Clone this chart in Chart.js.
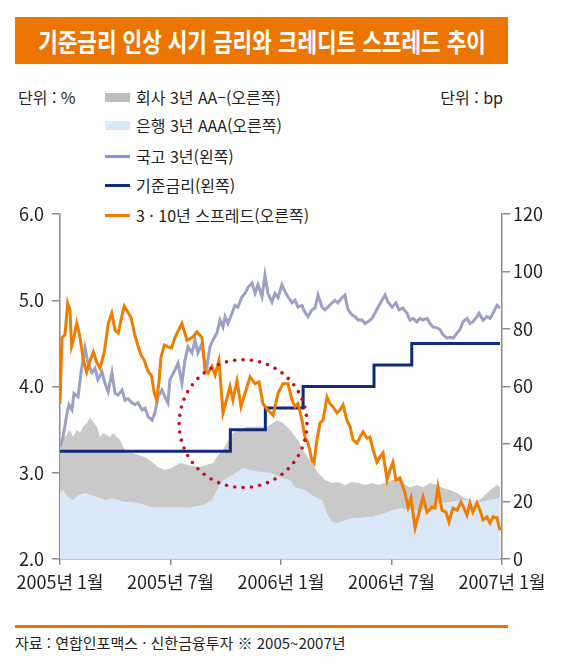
<!DOCTYPE html>
<html lang="ko">
<head>
<meta charset="utf-8">
<script src="https://cdn.jsdelivr.net/npm/chart.js@4.4.1/dist/chart.umd.min.js"></script>
<style>
  body {
    margin: 0;
    width: 567px;
    height: 670px;
    background: #fff;
    position: relative;
    overflow: hidden;
    font-family: "Liberation Sans Narrow", "Noto Sans CJK KR", sans-serif;
    color: #231f20;
  }
  .title {
    position: absolute; left: 15px; top: 17px; width: 493px; height: 47px;
    background: #ec7500;
  }
  .title span {
    position: absolute; left: 50%; top: 50%;
    transform: translate(-50%, -52%) scaleX(0.82);
    white-space: nowrap; color: #fff;
    font: bold 26px "Noto Sans CJK KR", sans-serif;
  }
  .unit { position: absolute; top: 87px; font-size: 16px; line-height: 20px; }
  .legend { position: absolute; left: 105px; font-size: 16px; line-height: 20px; display: flex; align-items: center; white-space: nowrap; }
  .legend i { display: inline-block; width: 25px; margin-right: 6px; }
  #wrap { position: absolute; left: 0; top: 190px; width: 567px; height: 410px; }
  .rule { position: absolute; left: 15px; top: 625px; width: 493px; height: 3px; background: #ec7500; }
  .source { position: absolute; left: 15px; top: 633px; font-size: 15px; line-height: 20px; white-space: nowrap; }
</style>
</head>
<body>
<div class="title"><span>기준금리 인상 시기 금리와 크레디트 스프레드 추이</span></div>
<div class="unit" style="left:18px">단위 : %</div>
<div class="unit" style="right:64px">단위 : bp</div>
<div class="legend" style="top:87px"><i style="height:9px;background:#bdbdbd"></i>회사 3년 AA–(오른쪽)</div>
<div class="legend" style="top:115px"><i style="height:9px;background:#dae8fa"></i>은행 3년 AAA(오른쪽)</div>
<div class="legend" style="top:146px"><i style="height:3px;background:#7e98e4"></i>국고 3년(왼쪽)</div>
<div class="legend" style="top:175px"><i style="height:3px;background:#102a7c"></i>기준금리(왼쪽)</div>
<div class="legend" style="top:205px"><i style="height:3px;background:#ef7d00"></i>3 · 10년 스프레드(오른쪽)</div>
<div id="wrap"><canvas id="chart" width="567" height="410"></canvas></div>
<div class="rule"></div>
<div class="source">자료 : 연합인포맥스 · 신한금융투자 ※ 2005~2007년</div>
<script>
// x = months since 2005-01
const xTickMonths = [0, 6, 12, 18, 24];
const xTickLabels = ['2005년 1월', '2005년 7월', '2006년 1월', '2006년 7월', '2007년 1월'];

// 3·10년 스프레드 (bp, right)
const spreadMonths = [0, 0.11, 0.27, 0.42, 0.54, 0.63, 0.72, 0.91, 1.09, 1.27, 1.45, 1.63, 1.81, 1.99, 2.17, 2.41, 2.62, 2.81, 2.99, 3.17, 3.31, 3.49, 3.67, 3.86, 4.04, 4.22, 4.40, 4.58, 4.76, 4.98, 5.12, 5.25, 5.38, 5.48, 5.66, 5.88, 6.06, 6.24, 6.62, 6.90, 7.17, 7.44, 7.71, 7.87, 8.04, 8.25, 8.42, 8.63, 8.85, 9.07, 9.23, 9.39, 9.61, 9.83, 10.05, 10.32, 10.59, 10.81, 11.02, 11.29, 11.57, 11.84, 12.11, 12.38, 12.60, 12.76, 12.92, 13.14, 13.30, 13.47, 13.68, 13.79, 13.95, 14.12, 14.28, 14.50, 14.66, 14.82, 15.04, 15.20, 15.37, 15.58, 15.75, 15.91, 16.13, 16.29, 16.45, 16.67, 16.83, 17.00, 17.21, 17.38, 17.54, 17.76, 17.92, 18.08, 18.24, 18.46, 18.73, 18.90, 19.06, 19.28, 19.49, 19.71, 19.93, 20.20, 20.36, 20.52, 20.74, 20.96, 21.12, 21.34, 21.56, 21.77, 21.94, 22.10, 22.26, 22.42, 22.64, 22.80, 22.97, 23.18, 23.35, 23.51, 23.73, 23.89];
const spreadBp = [54, 77, 78, 89, 86.6, 74, 76, 82, 77, 69, 65, 69, 72, 68.5, 66.4, 72, 82, 85.5, 79.6, 78.6, 83, 88, 86, 84, 78.6, 74.4, 71, 69, 65.7, 63.4, 57.7, 55.3, 62, 70, 74.4, 73.8, 73.4, 77, 82, 76, 77, 79, 77, 65.7, 64.7, 67, 64, 69, 50.8, 56, 60, 55.3, 62, 53, 57.7, 63.4, 61, 61.6, 54, 51.8, 50, 57.7, 61, 61, 55.3, 53, 54, 48.3, 42.4, 40.3, 34.4, 33.4, 41.4, 47.3, 48.3, 56.3, 54, 53, 50.8, 51.8, 53.6, 48.3, 46, 41.4, 40.3, 42.4, 44.2, 42, 42.4, 38, 33.7, 35.5, 36.9, 27.5, 31, 33.7, 27.5, 28.2, 23, 18, 21.2, 10.8, 16, 21.6, 16.3, 18, 17.7, 25, 17, 16.3, 12.9, 17.7, 17, 19.8, 17.7, 15.3, 19.5, 16.3, 19.5, 17, 13.6, 14.6, 12.5, 14.6, 14.3, 10];

// 국고 3년 (%, left)
const govMonths = [0, 0.16, 0.38, 0.49, 0.65, 0.76, 0.98, 1.14, 1.36, 1.52, 1.74, 1.90, 2.06, 2.28, 2.44, 2.61, 2.82, 2.99, 3.15, 3.37, 3.53, 3.69, 3.91, 4.07, 4.24, 4.45, 4.62, 4.78, 5.00, 5.16, 5.32, 5.54, 5.70, 5.86, 5.97, 6.24, 6.41, 6.62, 6.79, 6.95, 7.17, 7.33, 7.49, 7.71, 7.87, 7.98, 8.14, 8.31, 8.52, 8.69, 8.85, 8.96, 9.12, 9.34, 9.50, 9.66, 9.88, 10.05, 10.21, 10.43, 10.59, 10.75, 10.97, 11.13, 11.29, 11.51, 11.67, 11.84, 12.05, 12.22, 12.38, 12.60, 12.76, 12.92, 13.14, 13.30, 13.47, 13.68, 13.85, 14.01, 14.23, 14.39, 14.55, 14.77, 14.93, 15.09, 15.31, 15.47, 15.64, 15.85, 16.02, 16.18, 16.40, 16.56, 16.72, 16.94, 17.10, 17.27, 17.48, 17.65, 17.81, 18.03, 18.24, 18.41, 18.62, 18.84, 19.00, 19.17, 19.38, 19.55, 19.71, 19.93, 20.09, 20.25, 20.47, 20.63, 20.80, 21.01, 21.18, 21.34, 21.56, 21.72, 21.88, 22.10, 22.26, 22.42, 22.64, 22.75, 22.97, 23.18, 23.35, 23.51, 23.73, 23.89];
const govRate = [3.30, 3.41, 3.69, 3.79, 3.73, 3.92, 3.88, 4.16, 4.45, 4.27, 4.16, 4.21, 4.08, 4.17, 4.04, 3.94, 4.16, 3.92, 3.90, 3.96, 3.84, 3.86, 3.81, 3.79, 3.81, 3.73, 3.75, 3.65, 3.61, 3.70, 3.88, 3.96, 3.88, 3.81, 4.08, 4.19, 4.27, 4.04, 4.31, 4.46, 4.39, 4.54, 4.39, 4.50, 4.27, 4.23, 4.46, 4.54, 4.62, 4.77, 4.69, 4.81, 4.73, 4.85, 4.94, 4.92, 5.04, 5.08, 5.15, 5.20, 5.08, 5.18, 5.04, 5.29, 5.08, 4.98, 5.08, 5.03, 5.18, 5.10, 5.04, 4.97, 5.00, 4.92, 4.94, 4.86, 4.81, 4.89, 4.91, 5.06, 4.92, 4.89, 4.92, 4.97, 5.00, 4.97, 5.03, 5.06, 4.89, 4.83, 4.81, 4.77, 4.77, 4.73, 4.75, 4.79, 4.85, 4.92, 5.00, 5.06, 4.98, 4.92, 4.97, 4.89, 4.91, 4.85, 4.77, 4.79, 4.75, 4.79, 4.77, 4.79, 4.73, 4.69, 4.68, 4.66, 4.60, 4.56, 4.57, 4.56, 4.62, 4.66, 4.75, 4.79, 4.73, 4.75, 4.81, 4.85, 4.77, 4.81, 4.79, 4.85, 4.94, 4.91];

// 기준금리 (%, left) - change dates
const baseMonths = [0, 9.25, 11.15, 13.2, 17.05, 19.1, 23.89];
const baseRate = [3.25, 3.5, 3.75, 4.0, 4.25, 4.5, 4.5];

// 회사 3년 AA- (bp, right)
const corpMonths = [0, 0.27, 0.54, 0.71, 0.92, 1.09, 1.25, 1.47, 1.63, 1.79, 2.01, 2.17, 2.33, 2.55, 2.71, 2.88, 3.09, 3.26, 3.42, 3.64, 3.91, 4.24, 4.62, 5.00, 5.32, 5.70, 6.08, 6.52, 7.06, 7.60, 8.31, 8.52, 8.85, 9.39, 10.15, 10.70, 11.24, 11.78, 12.11, 12.49, 12.92, 13.30, 13.68, 14.01, 14.39, 14.77, 15.09, 15.47, 15.85, 16.18, 16.56, 16.94, 17.27, 17.65, 18.03, 18.30, 18.62, 19.00, 19.38, 19.71, 20.09, 20.47, 20.80, 21.18, 21.56, 21.88, 22.26, 22.64, 22.97, 23.35, 23.73, 23.89];
const corpBp = [42, 42.4, 45, 42.4, 45, 43.8, 46, 47.3, 49.4, 47.7, 46, 42.4, 43.8, 43, 42.4, 43.8, 42.4, 41.4, 39, 37.2, 36.9, 36.2, 35.5, 33.7, 32, 31, 31.7, 33.4, 32.5, 32, 33.4, 35.5, 38, 43.8, 46, 46, 46, 48.3, 47.3, 45, 41.4, 36.9, 33.4, 30, 27.5, 26.4, 26.8, 25.7, 26.8, 26.4, 25.7, 26.4, 25.7, 26.4, 27.5, 27.5, 26.4, 25, 25.7, 25, 26.4, 25.7, 24.7, 24, 23, 21.6, 20.5, 19.8, 21.6, 24, 25.7, 25];

// 은행 3년 AAA (bp, right)
const bankMonths = [0, 0.16, 0.43, 0.71, 0.98, 1.36, 1.74, 2.06, 2.44, 2.82, 3.15, 3.53, 3.91, 4.24, 4.62, 5.00, 5.70, 6.52, 7.06, 7.76, 8.25, 8.52, 8.85, 9.39, 9.94, 10.32, 10.86, 11.40, 11.95, 12.49, 12.76, 13.30, 13.85, 14.23, 14.50, 14.77, 15.09, 15.47, 15.85, 16.18, 16.56, 16.94, 17.27, 17.65, 18.03, 18.46, 19.00, 19.55, 20.09, 20.63, 21.18, 21.72, 22.26, 22.80, 23.35, 23.89];
const bankBp = [23, 24, 21.6, 20.5, 22.3, 23, 22.3, 21.6, 20.5, 21.2, 20.5, 19.8, 19.8, 19.5, 18.8, 18, 18, 18, 18, 18.8, 20.5, 24, 27.5, 29.2, 31.7, 31, 30.3, 30, 28.5, 27.5, 25, 24, 21.6, 20.5, 16, 12.9, 12.5, 13.6, 14.3, 14.3, 14.6, 14.6, 15.3, 16, 17, 17.7, 17, 17, 18, 19.5, 19.8, 20.5, 20.5, 19.8, 20.5, 21.2];

// red dotted circle (highlight), in data units
const circleMonth = 9.94;
const circleRate = 3.57;
const circleRadiusMonths = 3.47;

const toPoints = (xs, ys) => xs.map((x, i) => ({ x: x, y: ys[i] }));

const FONT = '"Liberation Sans Narrow", "Noto Sans CJK KR", sans-serif';
const AXIS = '#8c8c8c';
Chart.defaults.font.family = FONT;
Chart.defaults.font.size = 18;
Chart.defaults.color = '#231f20';

const dottedCircle = {
  id: 'dottedCircle',
  afterDatasetsDraw(chart) {
    const { ctx, scales } = chart;
    const cx = scales.x.getPixelForValue(circleMonth);
    const cy = scales.y.getPixelForValue(circleRate);
    const r = scales.x.getPixelForValue(circleMonth + circleRadiusMonths) - cx;
    const n = Math.round(2 * Math.PI * r / 8.3);
    ctx.save();
    ctx.fillStyle = '#c4101c';
    for (let i = 0; i < n; i++) {
      const a = i / n * Math.PI * 2;
      ctx.beginPath();
      ctx.arc(cx + r * Math.cos(a), cy + r * Math.sin(a), 1.8, 0, Math.PI * 2);
      ctx.fill();
    }
    ctx.restore();
  }
};

new Chart(document.getElementById('chart'), {
  type: 'line',
  data: {
    datasets: [{
      label: '3 · 10년 스프레드(오른쪽)',
      data: toPoints(spreadMonths, spreadBp),
      yAxisID: 'y1',
      borderColor: '#ef7d00',
      borderWidth: 3,
      order: 1
    }, {
      label: '기준금리(왼쪽)',
      data: toPoints(baseMonths, baseRate),
      yAxisID: 'y',
      borderColor: '#102a7c',
      borderWidth: 3,
      stepped: 'before',
      order: 2
    }, {
      label: '국고 3년(왼쪽)',
      data: toPoints(govMonths, govRate),
      yAxisID: 'y',
      borderColor: '#9da0c4',
      borderWidth: 3,
      order: 3
    }, {
      label: '은행 3년 AAA(오른쪽)',
      data: toPoints(bankMonths, bankBp),
      yAxisID: 'y1',
      borderWidth: 0,
      backgroundColor: '#dae8fa',
      fill: 'origin',
      order: 4
    }, {
      label: '회사 3년 AA-(오른쪽)',
      data: toPoints(corpMonths, corpBp),
      yAxisID: 'y1',
      borderWidth: 0,
      backgroundColor: '#c9c9c9',
      fill: 'origin',
      order: 5
    }]
  },
  options: {
    responsive: false,
    animation: false,
    devicePixelRatio: 1,
    layout: { padding: { top: 24, left: 0, right: 0, bottom: 0 } },
    elements: { point: { radius: 0 }, line: { tension: 0 } },
    plugins: { legend: { display: false }, tooltip: { enabled: false } },
    scales: {
      x: {
        type: 'linear',
        min: 0,
        max: 24,
        afterBuildTicks: (s) => { s.ticks = xTickMonths.map(v => ({ value: v })); },
        afterFit: (s) => { s.height = 41; },
        ticks: {
          padding: 6,
          maxRotation: 0,
          callback: (v) => xTickLabels[xTickMonths.indexOf(v)]
        },
        grid: { drawOnChartArea: false, tickLength: 6, color: AXIS, lineWidth: 1.5 },
        border: { color: AXIS, width: 1.5 }
      },
      y: {
        position: 'left',
        min: 2,
        max: 6,
        afterFit: (s) => { s.width = 60; },
        ticks: { stepSize: 1, padding: 8, callback: (v) => v.toFixed(1) },
        grid: { drawOnChartArea: false, tickLength: 8, color: AXIS, lineWidth: 1.5 },
        border: { color: AXIS, width: 1.5 }
      },
      y1: {
        position: 'right',
        min: 0,
        max: 120,
        afterFit: (s) => { s.width = 65; },
        ticks: { stepSize: 20, padding: 3 },
        grid: { drawOnChartArea: false, tickLength: 8, color: AXIS, lineWidth: 1.5 },
        border: { color: AXIS, width: 1.5 }
      }
    }
  },
  plugins: [dottedCircle]
});
</script>
</body>
</html>
